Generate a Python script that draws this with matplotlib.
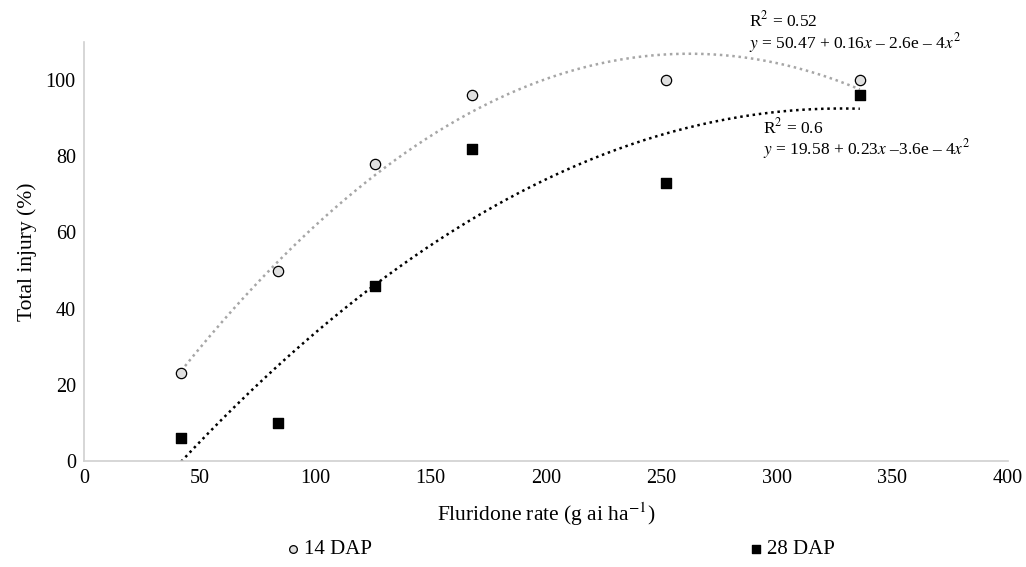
import matplotlib.pyplot as plt
import numpy as np

plt.rcParams['font.family'] = ['Liberation Serif', 'DejaVu Serif']
plt.rcParams['mathtext.fontset'] = 'stix'

# data
rate = np.array([42, 84, 126, 168, 252, 336])
dap14 = np.array([23, 50, 78, 96, 100, 100])
dap28 = np.array([6, 10, 46, 82, 73, 96])

eq14 = ['R$^2$ = 0.52', r'$y$ = 50.47 + 0.16$x$ – 2.6e – 4$x^2$']
eq28 = ['R$^2$ = 0.6', r'$y$ = 19.58 + 0.23$x$ –3.6e – 4$x^2$']

fig = plt.figure(figsize=(10.26, 5.67), dpi=100)
ax = fig.add_axes([0.082, 0.187, 0.900, 0.739])

# quadratic trend lines fitted to the points
xs = np.linspace(rate.min(), rate.max(), 200)
p14 = np.polyfit(rate, dap14, 2)
p28 = np.polyfit(rate, dap28, 2)
ax.plot(xs, np.polyval(p14, xs), color='#a6a6a6', ls=(0, (1, 1.5)), lw=1.8)
ax.plot(xs, np.polyval(p28, xs), color='black', ls=(0, (1, 1.5)), lw=1.8)

ax.scatter(rate, dap14, marker='o', s=55, facecolor='#e0e0e0',
           edgecolor='black', lw=0.9, zorder=3, label='14 DAP')
ax.scatter(rate, dap28, marker='s', s=60, facecolor='black',
           edgecolor='black', zorder=3, label='28 DAP')

ax.set_xlim(0, 400)
ax.set_ylim(0, 110)
ax.set_xticks(np.arange(0, 401, 50))
ax.set_yticks(np.arange(0, 101, 20))
ax.tick_params(length=0, labelsize=14.5, pad=6)
for s in ['top', 'right']:
    ax.spines[s].set_visible(False)
for s in ['left', 'bottom']:
    ax.spines[s].set_color('#d0d0d0')
    ax.spines[s].set_linewidth(1.2)

ax.set_xlabel('Fluridone rate (g ai ha$^{-1}$)', fontsize=15.5, labelpad=9)
ax.set_ylabel('Total injury (%)', fontsize=15.5, labelpad=6)

ax.text(288, 113, eq14[0], fontsize=12.5, va='bottom')
ax.text(288, 113, eq14[1], fontsize=12.5, va='top')
ax.text(294, 85, eq28[0], fontsize=12.5, va='bottom')
ax.text(294, 85, eq28[1], fontsize=12.5, va='top')

fig.legend(loc='lower center', bbox_to_anchor=(0.545, -0.019), ncol=2,
           frameon=False, fontsize=15, columnspacing=18, handletextpad=0.05,
           handlelength=0.9, markerscale=0.75)

fig.savefig('out.png', dpi=100)
